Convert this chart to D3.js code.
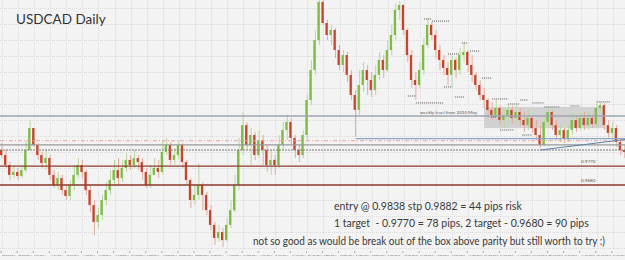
<!DOCTYPE html>
<html>
<head>
<meta charset="utf-8">
<script src="https://cdn.jsdelivr.net/npm/d3@7"></script>
<style>
  body { margin: 0; background: #f3f3f3; }
  svg { display: block; font-family: Lato, "Open Sans", sans-serif; }
</style>
</head>
<body>
<div id="chart"></div>
<script>
// USDCAD daily candles (open = previous close)
const firstOpen = 0.9846;
const closes = [
  0.9822,0.9775,0.9728,0.9742,0.9723,0.9751,0.9846,0.9950,0.9870,0.9822,
  0.9784,0.9808,0.9728,0.9680,0.9713,0.9656,0.9628,0.9680,0.9728,0.9775,
  0.9742,0.9656,0.9585,0.9505,0.9538,0.9609,0.9656,0.9704,0.9751,0.9713,
  0.9761,0.9799,0.9775,0.9808,0.9789,0.9742,0.9680,0.9728,0.9761,0.9742,
  0.9837,0.9870,0.9799,0.9822,0.9870,0.9789,0.9704,0.9609,0.9633,0.9680,
  0.9633,0.9561,0.9491,0.9429,0.9457,0.9419,0.9491,0.9561,0.9680,0.9846,
  0.9964,0.9870,0.9917,0.9822,0.9893,0.9846,0.9775,0.9799,0.9775,0.9870,
  0.9941,0.9979,0.9903,0.9846,0.9822,0.9917,1.0083,1.0225,1.0367,1.0548,
  1.0448,1.0391,1.0415,1.0320,1.0249,1.0296,1.0202,1.0107,1.0036,1.0154,
  1.0225,1.0178,1.0130,1.0202,1.0273,1.0225,1.0320,1.0391,1.0510,1.0533,
  1.0415,1.0296,1.0178,1.0154,1.0225,1.0344,1.0439,1.0391,1.0320,1.0273,
  1.0235,1.0202,1.0273,1.0225,1.0296,1.0311,1.0249,1.0202,1.0154,1.0107,
  1.0083,1.0036,1.0012,1.0045,0.9988,1.0012,1.0036,0.9998,1.0026,0.9988,
  0.9964,0.9998,0.9950,0.9917,0.9870,0.9979,1.0026,0.9964,0.9917,0.9941,
  0.9903,0.9941,0.9988,0.9950,0.9998,0.9964,0.9998,0.9969,1.0045,1.0059,
  0.9964,0.9927,0.9950,0.9884,0.9846,0.9837
];
const highs = [
  0.9879,0.9846,0.9789,0.9775,0.9761,0.9775,0.9893,0.9988,0.9950,0.9879,
  0.9837,0.9846,0.9822,0.9751,0.9742,0.9728,0.9680,0.9704,0.9775,0.9808,
  0.9799,0.9751,0.9680,0.9609,0.9571,0.9633,0.9694,0.9751,0.9799,0.9808,
  0.9799,0.9832,0.9822,0.9846,0.9822,0.9808,0.9761,0.9775,0.9808,0.9799,
  0.9893,0.9903,0.9884,0.9856,0.9893,0.9879,0.9799,0.9713,0.9680,0.9784,
  0.9694,0.9647,0.9585,0.9505,0.9491,0.9476,0.9524,0.9609,0.9728,0.9903,
  1.0026,0.9979,0.9950,0.9931,0.9941,0.9917,0.9870,0.9846,0.9822,0.9917,
  0.9979,1.0012,0.9998,0.9917,0.9870,0.9941,1.0107,1.0273,1.0415,1.0580,
  1.0560,1.0462,1.0439,1.0424,1.0344,1.0320,1.0311,1.0225,1.0130,1.0225,
  1.0263,1.0249,1.0216,1.0249,1.0311,1.0296,1.0367,1.0439,1.0543,1.0552,
  1.0538,1.0424,1.0320,1.0216,1.0263,1.0377,1.0472,1.0453,1.0415,1.0344,
  1.0296,1.0263,1.0296,1.0282,1.0329,1.0358,1.0320,1.0296,1.0216,1.0178,
  1.0140,1.0092,1.0074,1.0083,1.0059,1.0045,1.0064,1.0055,1.0059,1.0045,
  1.0026,1.0036,1.0012,0.9988,0.9964,0.9998,1.0050,1.0036,0.9988,0.9964,
  0.9950,0.9964,1.0021,1.0012,1.0026,1.0026,1.0026,1.0017,1.0069,1.0074,
  1.0069,0.9988,0.9979,0.9964,0.9903,0.9870
];
const lows = [
  0.9808,0.9761,0.9704,0.9713,0.9704,0.9713,0.9742,0.9846,0.9860,0.9799,
  0.9761,0.9751,0.9704,0.9666,0.9656,0.9633,0.9609,0.9609,0.9656,0.9713,
  0.9713,0.9633,0.9552,0.9443,0.9476,0.9514,0.9585,0.9633,0.9680,0.9675,
  0.9694,0.9742,0.9751,0.9761,0.9751,0.9704,0.9666,0.9666,0.9728,0.9713,
  0.9728,0.9822,0.9775,0.9775,0.9799,0.9761,0.9680,0.9571,0.9585,0.9609,
  0.9561,0.9538,0.9467,0.9396,0.9410,0.9386,0.9410,0.9476,0.9552,0.9656,
  0.9822,0.9846,0.9775,0.9799,0.9808,0.9775,0.9742,0.9728,0.9728,0.9761,
  0.9846,0.9893,0.9870,0.9808,0.9789,0.9808,0.9893,1.0059,1.0202,1.0344,
  1.0439,1.0367,1.0344,1.0282,1.0225,1.0216,1.0168,1.0083,0.9908,1.0012,
  1.0121,1.0107,1.0097,1.0107,1.0178,1.0187,1.0216,1.0296,1.0367,1.0462,
  1.0391,1.0263,1.0140,1.0083,1.0140,1.0202,1.0329,1.0367,1.0282,1.0225,
  1.0202,1.0154,1.0140,1.0187,1.0202,1.0263,1.0216,1.0168,1.0130,1.0083,
  1.0045,0.9998,0.9988,0.9998,0.9964,0.9950,0.9979,0.9969,0.9964,0.9960,
  0.9931,0.9941,0.9927,0.9893,0.9856,0.9865,0.9950,0.9941,0.9893,0.9884,
  0.9879,0.9884,0.9917,0.9931,0.9941,0.9941,0.9941,0.9950,0.9950,1.0026,
  0.9941,0.9903,0.9893,0.9860,0.9822,0.9808
];
const dateLabels = [
  "20 Jun 2011","28 Jun 2011","6 Jul 2011","14 Jul 2011","22 Jul 2011","1 Aug 2011",
  "9 Aug 2011","17 Aug 2011","25 Aug 2011","2 Sep 2011","12 Sep 2011","20 Sep 2011",
  "28 Sep 2011","6 Oct 2011","14 Oct 2011","24 Oct 2011","1 Nov 2011","9 Nov 2011",
  "17 Nov 2011","25 Nov 2011","5 Dec 2011","13 Dec 2011","21 Dec 2011","29 Dec 2011",
  "6 Jan 2012","16 Jan 2012","24 Jan 2012","1 Feb 2012","9 Feb 2012","17 Feb 2012",
  "27 Feb 2012","6 Mar 2012","14 Mar 2012","22 Mar 2012","30 Mar 2012","9 Apr 2012",
  "17 Apr 2012","25 Apr 2012","3 May 2012"
];

// drawn levels
const weeklyLevel = 1.0007;
const stopLevel = 0.9890;
const boxLowLevel = 0.9870;
const entryLevel = 0.9846;
const target1 = 0.9770;
const target2 = 0.9680;
const supportLevel = 0.9900;   // from the Oct low onwards
const supportStart = 88;
const trendLine = [[134, 0.9846], [156, 0.9898]];
const box = {from: 120, to: 150, top: 1.0050, bottom: 0.9950};
// fractal style dotted markers: [from bar, to bar, price]
const marks = [
  [105,107,1.0467],[107,111.5,1.0457],[101,103,1.0102],[103,110,1.0069],
  [110,112,1.0145],[111,114,1.0301],[114.5,116,1.0353],[116.5,119,1.0315],
  [112.7,115,1.0097],[119.5,122,1.0187],[122,126,1.0088],[121.7,123.2,1.0002],
  [126,128.7,1.0064],[129,131,1.0083],[132,135,1.0069],[135,138.7,1.0050],
  [124,127.5,0.9941],[129.5,132,0.9917],[141.5,143.7,1.0055],[148,151.5,1.0074]
];
const notes = [
  "entry @ 0.9838 stp 0.9882 = 44 pips risk",
  "1 target  - 0.9770 = 78 pips, 2 target - 0.9680 = 90 pips",
  "not so good as would be break out of the box above parity but still worth to try :)"
];

const W = 625, H = 260, plotH = 250;
const data = closes.map((c, i) => ({
  i, open: i ? closes[i - 1] : firstOpen, close: c, high: highs[i], low: lows[i]
}));

const svg = d3.select("#chart").append("svg")
  .attr("width", W).attr("height", H);

svg.append("rect").attr("width", W).attr("height", H).attr("fill", "#f3f3f3");

const x = d3.scaleBand().domain(d3.range(data.length)).range([0, W]).paddingInner(0.45);
const xc = i => x.step() * i + x.step() / 2;
const y = d3.scaleLinear().domain([0.9372, 1.0557]).range([plotH, 0]);

svg.append("clipPath").attr("id", "clip")
  .append("rect").attr("width", W).attr("height", plotH);

// grid
const grid = svg.append("g").attr("stroke", "#dcdcdc").attr("stroke-dasharray", "1,1");
grid.selectAll(".gx").data(d3.range(0, data.length, 4)).join("line")
  .attr("x1", d => Math.round(xc(d)) + 0.5).attr("x2", d => Math.round(xc(d)) + 0.5)
  .attr("y1", 0).attr("y2", plotH);
grid.selectAll(".gy").data(d3.range(0.9380, 1.0560, 0.00758)).join("line")
  .attr("x1", 0).attr("x2", W)
  .attr("y1", d => Math.round(y(d)) + 0.5).attr("y2", d => Math.round(y(d)) + 0.5);

const plot = svg.append("g").attr("clip-path", "url(#clip)");

// consolidation box
plot.append("rect")
  .attr("x", xc(box.from)).attr("width", xc(box.to) - xc(box.from))
  .attr("y", y(box.top)).attr("height", y(box.bottom) - y(box.top))
  .attr("fill", "#cbcbcb").attr("opacity", 0.85);

// candles
const up = d => d.close >= d.open;
const candles = plot.selectAll(".candle").data(data).join("g").attr("class", "candle");
candles.append("line")
  .attr("x1", d => xc(d.i)).attr("x2", d => xc(d.i))
  .attr("y1", d => y(d.high)).attr("y2", d => y(d.low))
  .attr("stroke", d => up(d) ? "#b9d7a0" : "#e2aaa0").attr("stroke-width", 1);
candles.append("rect")
  .attr("x", d => x(d.i)).attr("width", x.bandwidth())
  .attr("y", d => y(Math.max(d.open, d.close)))
  .attr("height", d => Math.max(1, Math.abs(y(d.open) - y(d.close))))
  .attr("fill", d => up(d) ? "#7dbb42" : "#c5442c");

// horizontal levels
const hline = (p, color, w, dash, from) => plot.append("line")
  .attr("x1", from == null ? 0 : xc(from)).attr("x2", W)
  .attr("y1", y(p)).attr("y2", y(p))
  .attr("stroke", color).attr("stroke-width", w)
  .attr("stroke-dasharray", dash || null);

hline(weeklyLevel, "#9ea6ad", 1.6);
hline(supportLevel, "#8aa6c4", 1.2, null, supportStart);
hline(stopLevel, "#e7a2a2", 1, "4,2,1,2");
hline(boxLowLevel, "#9a9a9a", 1.2);
hline(entryLevel, "#7a7a7a", 1, "2,1");
hline(target1, "#8e3b2c", 1.3);
hline(target2, "#8e3b2c", 1.3);

plot.append("line")
  .attr("x1", xc(trendLine[0][0])).attr("y1", y(trendLine[0][1]))
  .attr("x2", xc(trendLine[1][0])).attr("y2", y(trendLine[1][1]))
  .attr("stroke", "#5f80a8").attr("stroke-width", 1);

// dotted markers
plot.selectAll(".mark").data(marks).join("line")
  .attr("x1", d => xc(d[0])).attr("x2", d => xc(d[1]))
  .attr("y1", d => y(d[2])).attr("y2", d => y(d[2]))
  .attr("stroke", "#555").attr("stroke-width", 1).attr("stroke-dasharray", "1,1");

// level labels
const small = (t, px, p, dy) => svg.append("text")
  .attr("x", px).attr("y", y(p) + dy)
  .attr("font-size", 4.6).attr("fill", "#555").text(t);
small("weekly level from 2010 May", 420, weeklyLevel, -2);
small("0.9770", 581, target1, -3);
small("0.9680", 581, target2, -3);

// x axis
const xAxis = d3.axisBottom(x)
  .tickValues(d3.range(0, data.length, 4))
  .tickFormat((d, i) => dateLabels[i])
  .tickSize(2).tickPadding(1);
const ax = svg.append("g").attr("transform", `translate(0,${plotH + 1})`).call(xAxis);
ax.select(".domain").remove();
ax.selectAll("line").attr("stroke", "#aaa");
ax.selectAll("text").attr("font-size", 2.5).attr("fill", "#666")
  .attr("text-anchor", "start").attr("dx", 1)
  .attr("font-family", "Lato, sans-serif");

// title
svg.append("text").attr("x", 16).attr("y", 24)
  .attr("font-size", 13.5).attr("fill", "#333").text("USDCAD Daily");

// notes
svg.selectAll(".note").data(notes).join("text")
  .attr("x", (d, i) => i < 2 ? 334 : 253)
  .attr("y", (d, i) => [210, 227, 245][i])
  .attr("font-size", 10.5).attr("fill", "#3a3a3a")
  .attr("textLength", (d, i) => i === 2 ? 352 : null)
  .attr("lengthAdjust", "spacingAndGlyphs")
  .style("white-space", "pre")
  .text(d => d);
</script>
</body>
</html>
